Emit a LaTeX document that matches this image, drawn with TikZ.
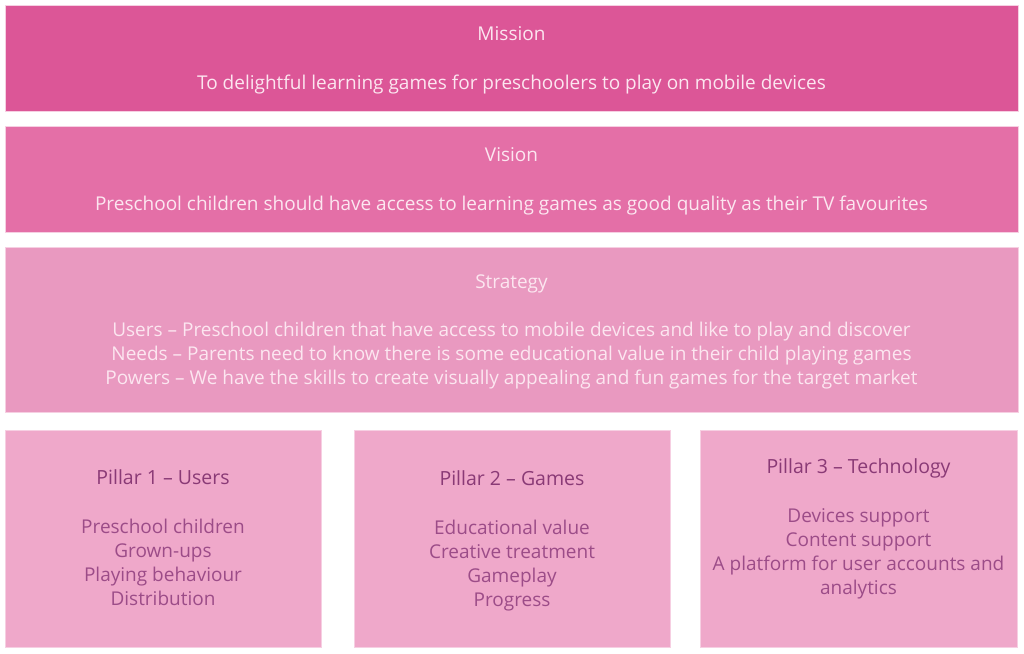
\documentclass[tikz,border=0pt]{standalone}
\usepackage{fontspec}
\setmainfont{Open Sans}
\definecolor{cMission}{HTML}{DC5697}
\definecolor{cVision}{HTML}{E46FA7}
\definecolor{cStrategy}{HTML}{E999C0}
\definecolor{cPillar}{HTML}{EFA8CA}
\definecolor{cEdge}{HTML}{F6CFE2}
\definecolor{cLight}{HTML}{FCE6F0}
\definecolor{cTitleP}{HTML}{8A3A76}
\definecolor{cItemP}{HTML}{9C4C88}
\begin{document}
\begin{tikzpicture}[x=1pt,y=-1pt,
  panel/.style={draw=cEdge,line width=0.8pt,inner sep=0pt,outer sep=0pt},
  toptxt/.style={text=cLight,font=\fontsize{19}{24}\selectfont,align=center,inner sep=0pt},
  ptitle/.style={text=cTitleP,font=\fontsize{19.5}{24}\selectfont,align=center,inner sep=0pt},
  pitem/.style={text=cItemP,font=\fontsize{19}{24}\selectfont,align=center,inner sep=0pt}]
\useasboundingbox (0,0) rectangle (1024,653);
\fill[white] (0,0) rectangle (1024,653);
% Mission
\node[panel,fill=cMission,minimum width=1013pt,minimum height=106pt] (mission) at (511.5,58) {};
\node[toptxt,anchor=base] (missionT) at (511.5,40) {Mission};
\node[toptxt,anchor=base] (missionB) at (511.5,89) {To delightful learning games for preschoolers to play on mobile devices};
% Vision
\node[panel,fill=cVision,minimum width=1013pt,minimum height=106pt] (vision) at (511.5,179) {};
\node[toptxt,anchor=base] (visionT) at (511.5,161) {Vision};
\node[toptxt,anchor=base] (visionB) at (511.5,210) {Preschool children should have access to learning games as good quality as their TV favourites};
% Strategy
\node[panel,fill=cStrategy,minimum width=1013pt,minimum height=165pt] (strategy) at (511.5,329.5) {};
\node[toptxt,anchor=base] (strategyT) at (511.5,288) {Strategy};
\node[toptxt,anchor=base] (s1) at (511.5,336) {Users -- Preschool children that have access to mobile devices and like to play and discover};
\node[toptxt,anchor=base] (s2) at (511.5,360) {Needs -- Parents need to know there is some educational value in their child playing games};
\node[toptxt,anchor=base] (s3) at (511.5,384) {Powers -- We have the skills to create visually appealing and fun games for the target market};
% Pillars
\node[panel,fill=cPillar,minimum width=316pt,minimum height=217pt] (p1) at (163,538.5) {};
\node[panel,fill=cPillar,minimum width=316pt,minimum height=217pt] (p2) at (512,538.5) {};
\node[panel,fill=cPillar,minimum width=317pt,minimum height=217pt] (p3) at (858.5,538.5) {};
\node[ptitle,anchor=base] (p1T) at (163,484) {Pillar 1 -- Users};
\node[pitem,anchor=base] (p1a) at (163,533) {Preschool children};
\node[pitem,anchor=base] (p1b) at (163,557) {Grown-ups};
\node[pitem,anchor=base] (p1c) at (163,581) {Playing behaviour};
\node[pitem,anchor=base] (p1d) at (163,605) {Distribution};
\node[ptitle,anchor=base] (p2T) at (512,485) {Pillar 2 -- Games};
\node[pitem,anchor=base] (p2a) at (512,534) {Educational value};
\node[pitem,anchor=base] (p2b) at (512,558) {Creative treatment};
\node[pitem,anchor=base] (p2c) at (512,582) {Gameplay};
\node[pitem,anchor=base] (p2d) at (512,606) {Progress};
\node[ptitle,anchor=base] (p3T) at (858.5,473) {Pillar 3 -- Technology};
\node[pitem,anchor=base] (p3a) at (858.5,522) {Devices support};
\node[pitem,anchor=base] (p3b) at (858.5,546) {Content support};
\node[pitem,anchor=base] (p3c) at (858.5,570) {A platform for user accounts and};
\node[pitem,anchor=base] (p3d) at (858.5,594) {analytics};
\end{tikzpicture}
\end{document}
